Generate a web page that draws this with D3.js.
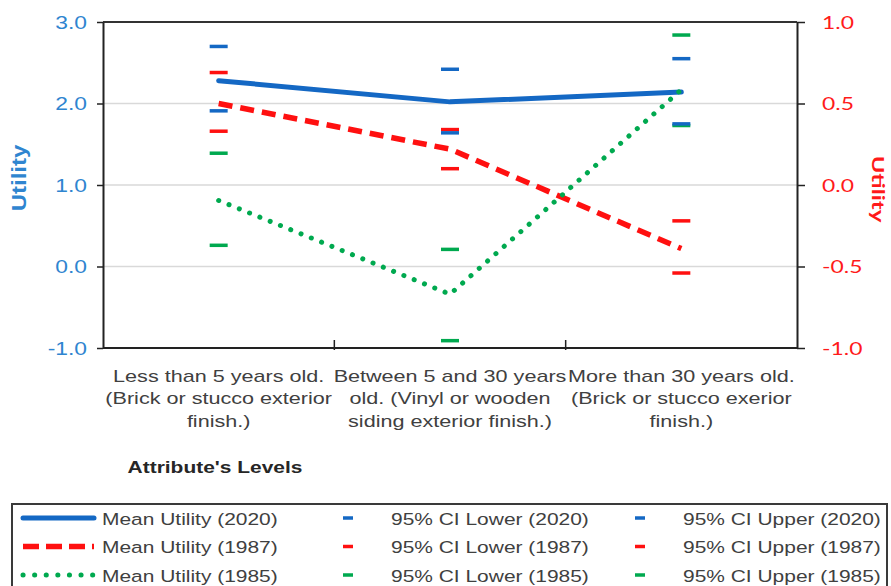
<!DOCTYPE html>
<html>
<head>
<meta charset="utf-8">
<script src="https://cdn.jsdelivr.net/npm/d3@7"></script>
<style>
  body { margin: 0; background: #fff; }
  svg { display: block; }
</style>
</head>
<body>
<script>
// Data
const categoryLines = [
    ["Less than 5 years old.", "(Brick or stucco exterior", "finish.)"],
    ["Between 5 and 30 years", "old. (Vinyl or wooden", "siding exterior finish.)"],
    ["More than 30 years old.", "(Brick or stucco exerior", "finish.)"]
];
const categories = categoryLines.map(l => l.join(" "));

// 2020 and 1985 on the left axis, 1987 on the right axis
const mean2020 = [2.28, 2.02, 2.14];
const lower2020 = [1.91, 1.64, 1.75];
const upper2020 = [2.70, 2.42, 2.55];

const mean1987 = [0.50, 0.22, -0.39];
const lower1987 = [0.33, 0.10, -0.54];
const upper1987 = [0.69, 0.34, -0.22];

const mean1985 = [0.81, -0.34, 2.17];
const lower1985 = [0.26, -0.91, 1.73];
const upper1985 = [1.39, 0.21, 2.84];

const leftTicks = [-1, 0, 1, 2, 3];
const rightTicks = [-1, -0.5, 0, 0.5, 1];

const legendItems = [
    ["Mean Utility (2020)", "95% CI Lower (2020)", "95% CI Upper (2020)"],
    ["Mean Utility (1987)", "95% CI Lower (1987)", "95% CI Upper (1987)"],
    ["Mean Utility (1985)", "95% CI Lower (1985)", "95% CI Upper (1985)"]
];

// Dimensions
const width = 891;
const height = 586;
const marginTop = 22;
const marginLeft = 103;
const plotRight = 797;
const plotBottom = 348;
const SX = 1.27; // the picture is stretched sideways

const blue = "#1468c4";
const red = "#ff1010";
const green = "#00a94f";
const textGray = "#404040";
const font = "'Liberation Sans', Arial, sans-serif";

// SCALES
const x = d3.scaleBand().domain(categories).range([marginLeft, plotRight]);
const xc = i => x(categories[i]) + x.bandwidth() / 2;
const yL = d3.scaleLinear().domain([-1, 3]).range([plotBottom, marginTop]);
const yR = d3.scaleLinear().domain([-1, 1]).range([plotBottom, marginTop]);

const svg = d3.select("body").append("svg")
    .attr("width", width)
    .attr("height", height);

// GRIDLINES
svg.append("g")
    .selectAll("line")
    .data([0, 1, 2])
    .join("line")
    .attr("x1", marginLeft).attr("x2", plotRight)
    .attr("y1", d => yL(d)).attr("y2", d => yL(d))
    .attr("stroke", "#d9d9d9")
    .attr("stroke-width", 1.5);

// top border
svg.append("line")
    .attr("x1", marginLeft).attr("x2", plotRight)
    .attr("y1", yL(3)).attr("y2", yL(3))
    .attr("stroke", "#333").attr("stroke-width", 2);

// AXES
const leftAxis = svg.append("g")
    .attr("transform", `translate(${marginLeft},0)`)
    .call(d3.axisLeft(yL).tickValues(leftTicks).tickSize(6).tickSizeOuter(0).tickFormat(d => d.toFixed(1)));
leftAxis.select(".domain").attr("stroke", "#222").attr("stroke-width", 2);
leftAxis.selectAll(".tick line").attr("stroke", "#222").attr("stroke-width", 1.5);
leftAxis.selectAll(".tick text")
    .attr("x", -16 / SX)
    .attr("dy", "0.36em")
    .attr("transform", `scale(${SX},1)`)
    .attr("fill", "#2f85d0")
    .style("font-family", font)
    .style("font-size", "18px");

const rightAxis = svg.append("g")
    .attr("transform", `translate(${plotRight},0)`)
    .call(d3.axisRight(yR).tickValues(rightTicks).tickSize(8).tickSizeOuter(0).tickFormat(d => d.toFixed(1)));
rightAxis.select(".domain").attr("stroke", "#222").attr("stroke-width", 2);
rightAxis.selectAll(".tick line").attr("stroke", "#222").attr("stroke-width", 1.5);
rightAxis.selectAll(".tick text")
    .attr("x", 25 / SX)
    .attr("dy", "0.36em")
    .attr("transform", `scale(${SX},1)`)
    .attr("fill", "#ff1a1a")
    .style("font-family", "Lato, 'Open Sans', sans-serif")
    .style("font-size", "18px");

// bottom axis with ticks between categories
svg.append("line")
    .attr("x1", marginLeft).attr("x2", plotRight)
    .attr("y1", plotBottom).attr("y2", plotBottom)
    .attr("stroke", "#222").attr("stroke-width", 2);
svg.append("g")
    .selectAll("line")
    .data(categories.slice(1))
    .join("line")
    .attr("x1", d => x(d)).attr("x2", d => x(d))
    .attr("y1", plotBottom - 8).attr("y2", plotBottom + 2)
    .attr("stroke", "#222").attr("stroke-width", 1.5);

// category labels
const catLabel = svg.append("g")
    .selectAll("text")
    .data(categoryLines)
    .join("text")
    .attr("transform", (d, i) => `translate(${xc(i)},382) scale(${SX},1)`)
    .attr("text-anchor", "middle")
    .attr("fill", textGray)
    .style("font-family", font)
    .style("font-size", "17px");
catLabel.selectAll("tspan")
    .data(d => d)
    .join("tspan")
    .attr("x", 0)
    .attr("y", (d, i) => i * 22.5)
    .text(d => d);

// axis titles
svg.append("text")
    .attr("transform", `translate(${215},473) scale(${SX},1)`)
    .attr("text-anchor", "middle")
    .attr("fill", "#262626")
    .style("font-family", font)
    .style("font-weight", "bold")
    .style("font-size", "16.5px")
    .text("Attribute's Levels");

svg.append("text")
    .attr("transform", "translate(26,178) rotate(-90) scale(1.6,1.35)")
    .attr("text-anchor", "middle")
    .attr("fill", "#2f85d0")
    .style("font-family", font)
    .style("font-weight", "bold")
    .style("font-size", "15px")
    .text("Utility");

svg.append("text")
    .attr("transform", "translate(872,189) rotate(90) scale(1.6,1.1)")
    .attr("text-anchor", "middle")
    .attr("fill", "#ff1a1a")
    .style("font-family", "Lato, 'Open Sans', sans-serif")
    .style("font-weight", "bold")
    .style("font-size", "15px")
    .text("Utility");

// MEAN LINES
const series = [
    { values: mean2020, y: yL, color: blue, width: 5, dash: null, cap: "round" },
    { values: mean1987, y: yR, color: red, width: 5.5, dash: "14 8", cap: "butt" },
    { values: mean1985, y: yL, color: green, width: 5, dash: "0.1 11", cap: "round" }
];
series.forEach(s => {
    const line = d3.line().x((d, i) => xc(i)).y(d => s.y(d));
    svg.append("path")
        .datum(s.values)
        .attr("d", line)
        .attr("fill", "none")
        .attr("stroke", s.color)
        .attr("stroke-width", s.width)
        .attr("stroke-dasharray", s.dash)
        .attr("stroke-linecap", s.cap)
        .attr("stroke-linejoin", "round");
});

// CI MARKERS
const ciSets = [
    { values: lower1985, y: yL, color: green },
    { values: upper1985, y: yL, color: green },
    { values: lower1987, y: yR, color: red },
    { values: upper1987, y: yR, color: red },
    { values: lower2020, y: yL, color: blue },
    { values: upper2020, y: yL, color: blue }
];
ciSets.forEach(s => {
    svg.append("g")
        .selectAll("line")
        .data(s.values)
        .join("line")
        .attr("x1", (d, i) => xc(i) - 9)
        .attr("x2", (d, i) => xc(i) + 9)
        .attr("y1", d => s.y(d))
        .attr("y2", d => s.y(d))
        .attr("stroke", s.color)
        .attr("stroke-width", 3.5);
});

// LEGEND
const legend = svg.append("g");
legend.append("rect")
    .attr("x", 12).attr("y", 504)
    .attr("width", 875).attr("height", 100)
    .attr("fill", "none")
    .attr("stroke", "#3a3a3a")
    .attr("stroke-width", 2);

const rowY = [518, 546.5, 575];
const colText = [102, 391, 683];
const colMarker = [348, 640];

legendItems.forEach((row, r) => {
    const s = series[r];
    legend.append("line")
        .attr("x1", 23).attr("x2", 94)
        .attr("y1", rowY[r]).attr("y2", rowY[r])
        .attr("stroke", s.color)
        .attr("stroke-width", s.width)
        .attr("stroke-dasharray", s.dash ? (r === 1 ? "16 7" : "0.1 11.5") : null)
        .attr("stroke-linecap", s.cap);
    colMarker.forEach(cx => {
        legend.append("line")
            .attr("x1", cx - 5).attr("x2", cx + 5)
            .attr("y1", rowY[r]).attr("y2", rowY[r])
            .attr("stroke", s.color)
            .attr("stroke-width", 3.5);
    });
    row.forEach((label, c) => {
        legend.append("text")
            .attr("transform", `translate(${colText[c]},${rowY[r] + 6.5}) scale(${SX},1)`)
            .attr("fill", textGray)
            .style("font-family", font)
            .style("font-size", "16.5px")
            .text(label);
    });
});
</script>
</body>
</html>
